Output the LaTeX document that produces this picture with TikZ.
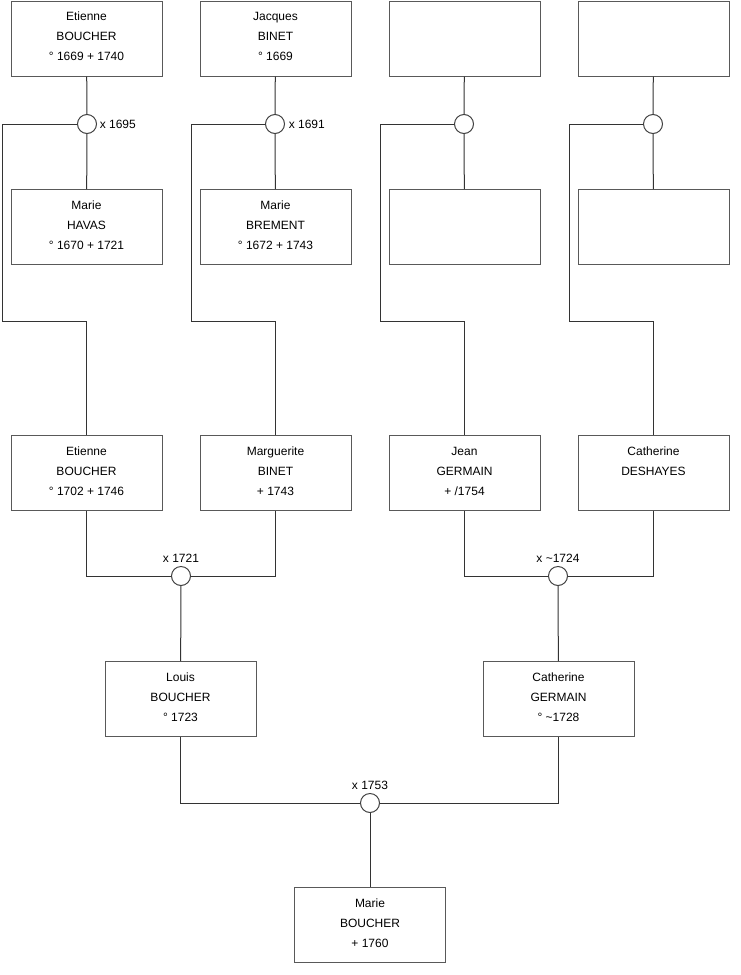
\documentclass[tikz,border=0pt]{standalone}
\usepackage{fontspec}
\setmainfont{Liberation Sans}
\newcommand{\lowpad}{\rule[-3pt]{0pt}{3pt}}
\begin{document}
\begin{tikzpicture}[x=0.75pt,y=-0.75pt,
  person/.style={draw=black!65, line width=0.75pt, minimum width=113.25pt, minimum height=56.25pt,
    inner sep=0pt, align=center, font=\fontsize{9}{15}\selectfont},
  union/.style={draw=black!75, line width=0.75pt, circle, minimum size=14.25pt, inner sep=0pt},
  lbl/.style={inner sep=0pt, font=\fontsize{9}{11}\selectfont},
  conn/.style={draw=black!80, line width=0.75pt}]
\useasboundingbox (0,0) rectangle (740,975);
% generation 1
\node[person] (p1) at (86.5,38.5) {Etienne\\BOUCHER\\° 1669 + 1740\lowpad};
\node[person] (p2) at (275.5,38.5) {Jacques\\BINET\\° 1669\lowpad};
\node[person] (p3) at (464.5,38.5) {};
\node[person] (p4) at (653.5,38.5) {};
\node[union] (c1) at (87,124) {};
\node[union] (c2) at (275,124) {};
\node[union] (c3) at (464,124) {};
\node[union] (c4) at (653,124) {};
\node[lbl, anchor=west] (x1) at (99.5,124) {x 1695};
\node[lbl, anchor=west] (x2) at (288.5,124) {x 1691};
\node[person] (w1) at (86.5,227) {Marie\\HAVAS\\° 1670 + 1721\lowpad};
\node[person] (w2) at (275.5,227) {Marie\\BREMENT\\° 1672 + 1743\lowpad};
\node[person] (w3) at (464.5,227) {};
\node[person] (w4) at (653.5,227) {};
% generation 2
\node[person] (k1) at (86.5,473) {Etienne\\BOUCHER\\° 1702 + 1746\lowpad};
\node[person] (k2) at (275.5,473) {Marguerite\\BINET\\+ 1743\lowpad};
\node[person] (k3) at (464.5,473) {Jean\\GERMAIN\\+ /1754\lowpad};
\node[person] (k4) at (653.5,473) {Catherine\\DESHAYES\\\mbox{}\lowpad};
\node[union] (cm1) at (181,576) {};
\node[union] (cm2) at (558,576) {};
\node[lbl] (x3) at (181,558) {x 1721};
\node[lbl] (x4) at (558,558) {x \textasciitilde1724};
% generation 3
\node[person] (g1) at (180.5,699) {Louis\\BOUCHER\\° 1723\lowpad};
\node[person] (g2) at (558.5,699) {Catherine\\GERMAIN\\° \textasciitilde1728\lowpad};
\node[union] (cm3) at (370,803) {};
\node[lbl] (x5) at (370,785) {x 1753};
\node[person] (m1) at (370,925) {Marie\\BOUCHER\\+ 1760\lowpad};
% coordinates for side lines
\foreach \i/\lx in {1/2,2/191,3/380,4/569}{
  \coordinate (a\i) at (\lx,124);
  \coordinate (b\i) at (\lx,321);
}
% connectors generation 1
\foreach \i in {1,2,3,4}{
  \draw[conn] (p\i) -- (c\i);
  \draw[conn] (c\i) -- (w\i);
  \draw[conn] (c\i.west) -- (a\i) -- (b\i) -| (k\i.north);
}
% generation 2 unions
\draw[conn] (k1.south) |- (cm1.west);
\draw[conn] (k2.south) |- (cm1.east);
\draw[conn] (cm1) -- (g1);
\draw[conn] (k3.south) |- (cm2.west);
\draw[conn] (k4.south) |- (cm2.east);
\draw[conn] (cm2) -- (g2);
% generation 3 union
\draw[conn] (g1.south) |- (cm3.west);
\draw[conn] (g2.south) |- (cm3.east);
\draw[conn] (cm3) -- (m1);
\end{tikzpicture}
\end{document}
